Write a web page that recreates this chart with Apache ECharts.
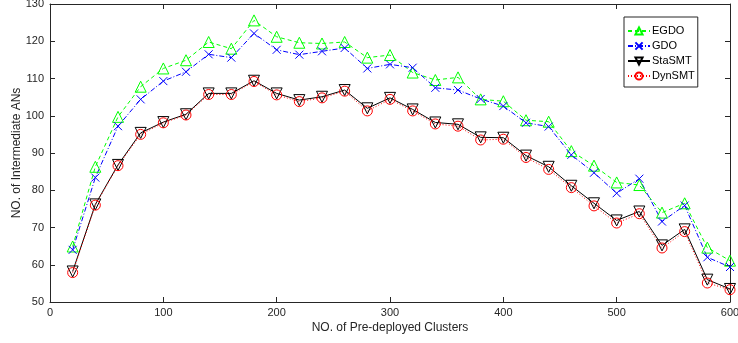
<!DOCTYPE html>
<html>
<head>
<meta charset="utf-8">
<script src="https://cdn.jsdelivr.net/npm/echarts@6/dist/echarts.min.js"></script>
<style>
  html, body { margin: 0; padding: 0; background: #fff; }
  #chart { width: 738px; height: 343px; }
</style>
</head>
<body>
<div id="chart"></div>
<script>
// cluster counts on the x axis
const clusters = [20, 40, 60, 80, 100, 120, 140, 160, 180, 200, 220, 240, 260, 280, 300,
  320, 340, 360, 380, 400, 420, 440, 460, 480, 500, 520, 540, 560, 580, 600]

const egdo = [64.9, 86.3, 99.7, 107.8, 112.7, 114.9, 119.8, 118.0, 125.6, 121.2,
  119.6, 119.4, 119.8, 115.6, 116.3, 111.6, 109.6, 110.3, 104.4, 103.9,
  98.8, 98.4, 90.5, 86.6, 82.1, 81.4, 74.0, 76.5, 64.6, 61.1]

const gdo = [64.0, 83.4, 97.2, 104.4, 109.3, 111.8, 116.5, 115.6, 122.1, 117.7,
  116.4, 117.3, 118.2, 112.7, 113.8, 112.9, 107.5, 106.9, 104.5, 102.6,
  98.1, 97.1, 89.5, 84.7, 79.2, 83.1, 71.6, 75.9, 62.0, 59.4]

const staSMT = [58.2, 76.2, 86.8, 95.4, 98.3, 100.4, 106.0, 106.0, 109.4, 106.0,
  104.2, 105.1, 106.9, 102.0, 104.8, 101.7, 98.2, 97.7, 94.2, 94.1,
  89.3, 86.3, 81.2, 76.5, 71.9, 74.3, 65.2, 69.5, 56.0, 53.5]

const dynSMT = [57.9, 76.0, 86.6, 95.0, 98.1, 100.2, 105.7, 105.7, 109.2, 105.6,
  103.8, 104.8, 106.6, 101.3, 104.4, 101.3, 97.8, 97.2, 93.5, 93.7,
  88.8, 85.6, 80.7, 75.8, 71.2, 73.7, 64.5, 68.9, 55.1, 53.3]

const xTicks = [0, 600, 100]
const yTicks = [50, 130, 10]

const axisColor = '#262626'
const font = 'Liberation Sans, Arial, Helvetica, sans-serif'

const pairs = (ys) => clusters.map((x, i) => [x, ys[i]])

const chart = echarts.init(document.getElementById('chart'), null, { renderer: 'canvas' })

const boxAxis = (extra) => Object.assign({
  type: 'value',
  axisLine: { show: true, onZero: false, lineStyle: { color: axisColor, width: 1 } },
  axisTick: { show: true, inside: true, length: 5, lineStyle: { color: axisColor } },
  splitLine: { show: false }
}, extra)

const option = {
  animation: false,
  backgroundColor: '#fff',
  grid: { left: 50, right: 8, top: 4, bottom: 41, containLabel: false, outerBoundsMode: 'none' },
  legend: {
    orient: 'vertical',
    left: 624,
    top: 17,
    itemWidth: 22,
    itemHeight: 9,
    itemGap: 3,
    padding: [8, 3, 5, 3],
    backgroundColor: '#fff',
    borderColor: axisColor,
    borderWidth: 1,
    borderRadius: 0,
    textStyle: { fontFamily: font, fontSize: 11, lineHeight: 12, color: '#000', padding: [0, 0, 0, -3] },
    data: ['EGDO', 'GDO', 'StaSMT', 'DynSMT']
  },
  xAxis: [
    boxAxis({
      min: xTicks[0], max: xTicks[1], interval: xTicks[2],
      name: 'NO. of Pre-deployed Clusters',
      nameLocation: 'middle',
      nameGap: 20,
      nameMoveOverlap: false,
      nameTextStyle: { fontFamily: font, fontSize: 12, color: axisColor },
      axisLabel: { fontFamily: font, fontSize: 11, color: axisColor, margin: 5 }
    }),
    boxAxis({
      position: 'top',
      min: xTicks[0], max: xTicks[1], interval: xTicks[2],
      axisLabel: { show: false }
    })
  ],
  yAxis: [
    boxAxis({
      min: yTicks[0], max: yTicks[1], interval: yTicks[2],
      name: 'NO. of Intermediate ANs',
      nameLocation: 'middle',
      nameGap: 27,
      nameMoveOverlap: false,
      nameTextStyle: { fontFamily: font, fontSize: 12, color: axisColor },
      axisLabel: { fontFamily: font, fontSize: 11, color: axisColor, margin: 6 }
    }),
    boxAxis({
      position: 'right',
      min: yTicks[0], max: yTicks[1], interval: yTicks[2],
      axisLabel: { show: false }
    })
  ],
  series: [
    {
      name: 'EGDO',
      type: 'line',
      data: pairs(egdo),
      symbol: 'triangle',
      symbolSize: 11,
      lineStyle: { color: '#00ff00', width: 1, type: [4, 3] },
      itemStyle: { color: 'rgba(0,0,0,0)', borderColor: '#00ff00', borderWidth: 1 }
    },
    {
      name: 'GDO',
      type: 'line',
      data: pairs(gdo),
      symbol: 'path://M0,0L10,10M10,0L0,10',
      symbolSize: 8,
      lineStyle: { color: '#0000ff', width: 1, type: [5, 2, 1, 2] },
      itemStyle: { color: 'rgba(0,0,0,0)', borderColor: '#0000ff', borderWidth: 1 }
    },
    {
      name: 'StaSMT',
      type: 'line',
      data: pairs(staSMT),
      symbol: 'triangle',
      symbolRotate: 180,
      symbolSize: 11,
      lineStyle: { color: '#000000', width: 1 },
      itemStyle: { color: 'rgba(0,0,0,0)', borderColor: '#000000', borderWidth: 1 }
    },
    {
      name: 'DynSMT',
      type: 'line',
      data: pairs(dynSMT),
      symbol: 'circle',
      symbolSize: 10,
      lineStyle: { color: '#ff0000', width: 1, type: [1, 2] },
      itemStyle: { color: 'rgba(0,0,0,0)', borderColor: '#ff0000', borderWidth: 1 }
    }
  ]
}

chart.setOption(option)
</script>
</body>
</html>
